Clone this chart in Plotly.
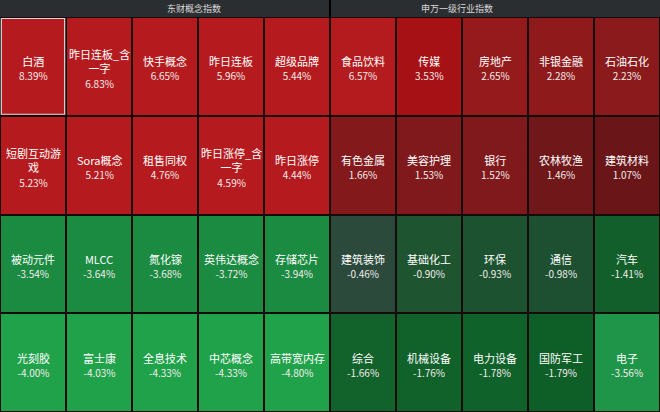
import plotly.graph_objects as go

# ---- data ----
left_title = "东财概念指数"
right_title = "申万一级行业指数"

left_names = ["白酒", "昨日连板_含一字", "快手概念", "昨日连板", "超级品牌",
              "短剧互动游戏", "Sora概念", "租售同权", "昨日涨停_含一字", "昨日涨停",
              "被动元件", "MLCC", "氮化镓", "英伟达概念", "存储芯片",
              "光刻胶", "富士康", "全息技术", "中芯概念", "高带宽内存"]
left_vals = [8.39, 6.83, 6.65, 5.96, 5.44,
             5.23, 5.21, 4.76, 4.59, 4.44,
             -3.54, -3.64, -3.68, -3.72, -3.94,
             -4.00, -4.03, -4.33, -4.33, -4.80]

right_names = ["食品饮料", "传媒", "房地产", "非银金融", "石油石化",
               "有色金属", "美容护理", "银行", "农林牧渔", "建筑材料",
               "建筑装饰", "基础化工", "环保", "通信", "汽车",
               "综合", "机械设备", "电力设备", "国防军工", "电子"]
right_vals = [6.57, 3.53, 2.65, 2.28, 2.23,
              1.66, 1.53, 1.52, 1.46, 1.07,
              -0.46, -0.90, -0.93, -0.98, -1.41,
              -1.66, -1.76, -1.78, -1.79, -3.56]

# ---- styles ----
left_colors = ["#b51b1e"] * 10 + ["#1a8b41"] * 5 + ["#1fa24a"] * 5
right_colors = ["#b31b1e", "#a61115", "#941a1b", "#8f1a1c", "#8a1a1c",
                "#83191b", "#80191b", "#80191b", "#6f1719", "#6a1618",
                "#2b4a3b", "#1e5430", "#1d5230", "#1c5030", "#135f2b",
                "#12622b", "#10622a", "#0f622a", "#0e5e28", "#1e9548"]

FONT = "Microsoft YaHei, Noto Sans CJK SC, sans-serif"
NCOLS_HALF = 5
NROWS = 4


def wrap(s, limit=61):
    lines, cur, w = [], "", 0.0
    for ch in s:
        cw = 11 if ord(ch) > 255 else 6
        if w + cw > limit and cur:
            lines.append(cur)
            cur, w = "", 0.0
        cur += ch
        w += cw
    lines.append(cur)
    return "<br>".join(lines)


z = []
annotations = []
for r in range(NROWS):
    zr = []
    for half, (names, vals) in enumerate([(left_names, left_vals), (right_names, right_vals)]):
        for c in range(NCOLS_HALF):
            i = r * NCOLS_HALF + c
            zr.append(half * 20 + i)
            col = half * NCOLS_HALF + c
            annotations.append(dict(
                x=col, y=r, xref="x", yref="y", showarrow=False,
                text=f"{wrap(names[i])}<br><span style='font-size:10px;color:#f3ecec'>{vals[i]:.2f}%</span>",
                font=dict(size=11, color="#ffffff", family=FONT),
                xanchor="center", yanchor="middle", yshift=-2,
            ))
    z.append(zr)

all_colors = left_colors + right_colors
n = len(all_colors)
colorscale = [[k / (n - 1), col] for k, col in enumerate(all_colors)]

fig = go.Figure(go.Heatmap(
    z=z,
    colorscale=colorscale,
    zmin=0, zmax=n - 1,
    showscale=False,
    xgap=2, ygap=2,
    hoverinfo="skip",
))

# selected-cell highlight (first cell)
fig.add_shape(type="rect", xref="x", yref="y",
              x0=0 - 0.5 + 0.02, x1=0 + 0.5 - 0.02, y0=0 - 0.5 + 0.015, y1=0 + 0.5 - 0.015,
              line=dict(color="#d8d8d8", width=1.2))

# header band divider
fig.add_shape(type="line", xref="paper", yref="paper", x0=0.5, x1=0.5, y0=1, y1=1.05,
              line=dict(color="#000000", width=2))

for xpos, t in [(0.25, left_title), (0.75, right_title)]:
    annotations.append(dict(text=t, xref="paper", yref="paper", x=xpos, y=1.0, yshift=8.5,
                            showarrow=False, yanchor="middle",
                            font=dict(size=9, color="#d9d9d9", family=FONT)))

fig.update_xaxes(visible=False, range=[-0.5, 9.5], fixedrange=True)
fig.update_yaxes(visible=False, range=[3.5, -0.5], fixedrange=True)
fig.update_layout(
    width=660, height=412,
    margin=dict(l=0, r=0, t=17, b=0),
    paper_bgcolor="#2b2e31",
    plot_bgcolor="#160b0b",
    showlegend=False,
    annotations=annotations,
)

fig.write_html("out.html")
